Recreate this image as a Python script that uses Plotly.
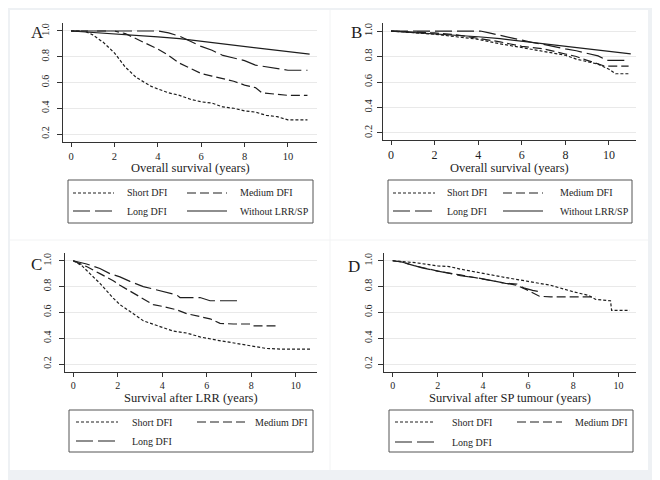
import plotly.graph_objects as go

# ---------------- data ----------------
years_ticks = [0, 2, 4, 6, 8, 10]
surv_ticks = [0.2, 0.4, 0.6, 0.8, 1.0]
surv_tick_labels = ["0.2", "0.4", "0.6", "0.8", "1.0"]

# Panel A - overall survival
a_short_t = [0, 0.6, 1.0, 1.5, 2.0, 2.5, 3.0, 3.3, 3.7, 4.0, 4.5, 5.0, 5.5, 6.0, 6.5, 7.0, 7.5, 8.0, 8.5, 9.0, 9.5, 10.0, 10.9]
a_short_s = [1.0, 1.0, 0.97, 0.91, 0.83, 0.72, 0.64, 0.61, 0.57, 0.55, 0.52, 0.50, 0.47, 0.45, 0.44, 0.41, 0.40, 0.38, 0.37, 0.345, 0.335, 0.31, 0.31]
a_medium_t = [0, 2.0, 2.5, 3.0, 3.5, 4.0, 4.5, 5.0, 5.5, 6.0, 6.5, 7.0, 7.5, 8.0, 8.5, 8.8, 9.5, 10.0, 10.9]
a_medium_s = [1.0, 1.0, 0.98, 0.94, 0.90, 0.86, 0.81, 0.75, 0.71, 0.67, 0.65, 0.63, 0.61, 0.58, 0.56, 0.52, 0.51, 0.50, 0.50]
a_long_t = [0, 4.0, 4.5, 5.0, 5.5, 6.0, 6.5, 7.0, 7.5, 8.0, 8.5, 9.0, 9.5, 10.0, 10.9]
a_long_s = [1.0, 1.0, 0.985, 0.96, 0.92, 0.88, 0.85, 0.81, 0.79, 0.77, 0.735, 0.72, 0.71, 0.695, 0.695]
ref_t = [0, 1, 2, 3, 4, 5, 6, 7, 8, 9, 10, 11]
ref_s = [1.0, 0.99, 0.98, 0.97, 0.955, 0.94, 0.92, 0.905, 0.885, 0.865, 0.845, 0.82]

# Panel B - overall survival
b_short_t = [0, 1, 2, 3, 4, 5, 6, 7, 8, 8.5, 9, 9.5, 10, 10.3, 10.9]
b_short_s = [1.0, 0.99, 0.975, 0.955, 0.935, 0.90, 0.87, 0.845, 0.81, 0.78, 0.76, 0.74, 0.70, 0.665, 0.665]
b_medium_t = [0, 1, 2, 3, 4, 5, 6, 7, 8, 8.5, 9, 9.5, 9.8, 10.9]
b_medium_s = [1.0, 0.995, 0.985, 0.97, 0.945, 0.915, 0.88, 0.86, 0.82, 0.80, 0.77, 0.745, 0.725, 0.725]
b_long_t = [0, 4.1, 4.5, 5, 5.5, 6, 6.5, 7, 7.5, 8, 8.5, 9, 9.5, 9.9, 10.9]
b_long_s = [1.0, 1.0, 0.985, 0.965, 0.945, 0.93, 0.91, 0.895, 0.875, 0.86, 0.845, 0.825, 0.805, 0.77, 0.77]

# Panel C - survival after LRR
c_short_t = [0, 0.4, 0.75, 1.2, 1.8, 2.1, 2.7, 3.15, 3.9, 4.5, 5.1, 5.7, 6.45, 7.2, 7.95, 8.7, 9.45, 10.65]
c_short_s = [1.0, 0.96, 0.90, 0.825, 0.71, 0.66, 0.59, 0.535, 0.49, 0.455, 0.44, 0.41, 0.385, 0.365, 0.34, 0.32, 0.315, 0.315]
c_medium_t = [0, 0.6, 1.2, 1.8, 2.1, 2.7, 3.15, 3.6, 4.05, 4.65, 5.1, 5.7, 6.15, 6.6, 7.2, 7.95, 8.1, 9.15]
c_medium_s = [1.0, 0.955, 0.90, 0.845, 0.81, 0.75, 0.70, 0.66, 0.645, 0.62, 0.59, 0.57, 0.55, 0.515, 0.51, 0.51, 0.495, 0.495]
c_long_t = [0, 0.6, 1.2, 1.65, 2.1, 2.55, 3.15, 3.75, 4.2, 4.65, 4.8, 5.7, 6.15, 7.5]
c_long_s = [1.0, 0.975, 0.94, 0.90, 0.875, 0.84, 0.80, 0.775, 0.755, 0.735, 0.715, 0.715, 0.69, 0.69]

# Panel D - survival after SP tumour
d_short_t = [0, 0.5, 1, 2, 2.5, 3, 4, 5, 6, 7, 8, 8.7, 9.0, 9.65, 9.7, 10.5]
d_short_s = [1.0, 0.995, 0.985, 0.96, 0.955, 0.935, 0.90, 0.87, 0.84, 0.81, 0.76, 0.73, 0.70, 0.69, 0.615, 0.615]
d_medium_t = [0, 0.4, 1, 1.5, 2, 3, 4, 5, 5.5, 6.0, 6.5, 7, 8, 9.0]
d_medium_s = [1.0, 0.99, 0.96, 0.94, 0.92, 0.89, 0.86, 0.825, 0.81, 0.77, 0.725, 0.72, 0.72, 0.72]
d_long_t = [0, 0.4, 1, 1.3, 2, 3, 4, 5, 5.5, 5.8, 6.2, 6.5]
d_long_s = [1.0, 0.99, 0.96, 0.945, 0.92, 0.885, 0.86, 0.825, 0.82, 0.79, 0.77, 0.76]

panel_letters = ["A", "B", "C", "D"]
x_titles = ["Overall survival (years)", "Overall survival (years)",
            "Survival after LRR (years)", "Survival after SP tumour (years)"]
legend_names = ["Short DFI", "Medium DFI", "Long DFI", "Without LRR/SP"]

# ---------------- styling ----------------
# The page body has an 8px default margin, so the figure is sized to fill the
# rest of the 660x480 window and all pixel positions are offset by 8.
OFF = 8
W, H = 660 - OFF, 480 - OFF
FONT = "Liberation Serif"
INK = "#1e1e1e"
DASH = {"Short DFI": "3px,2px", "Medium DFI": "9px,4px",
        "Long DFI": "17px,5px", "Without LRR/SP": "solid"}


def px(x):
    return (x - OFF) / W


def py(y):
    return 1 - (y - OFF) / H


# pixel geometry for each panel: plot box (x0, x1, ytop, ybottom), x range, y range
panels = [
    dict(box=(63, 317, 23, 142), xr=(-0.37, 11.34), yr=(0.138, 1.062), tf=10, xtf=10.5, so=4),
    dict(box=(383, 636, 23, 140), xr=(-0.367, 11.24), yr=(0.145, 1.063), tf=10.5, xtf=12, so=1),
    dict(box=(65, 317, 253, 372), xr=(-0.37, 10.96), yr=(0.138, 1.06), tf=10, xtf=10, so=4),
    dict(box=(384, 636, 253, 372), xr=(-0.385, 10.78), yr=(0.138, 1.06), tf=10, xtf=10, so=2),
]

series = [
    [("Short DFI", a_short_t, a_short_s), ("Medium DFI", a_medium_t, a_medium_s),
     ("Long DFI", a_long_t, a_long_s), ("Without LRR/SP", ref_t, ref_s)],
    [("Short DFI", b_short_t, b_short_s), ("Medium DFI", b_medium_t, b_medium_s),
     ("Long DFI", b_long_t, b_long_s), ("Without LRR/SP", ref_t, ref_s)],
    [("Short DFI", c_short_t, c_short_s), ("Medium DFI", c_medium_t, c_medium_s),
     ("Long DFI", c_long_t, c_long_s)],
    [("Short DFI", d_short_t, d_short_s), ("Medium DFI", d_medium_t, d_medium_s),
     ("Long DFI", d_long_t, d_long_s)],
]

# legend geometry: box, row y's, sample x-ranges, text x
legends = [
    dict(box=(68, 313, 180, 223), rows=(193, 211), cols=((73, 114, 125), (187, 227, 238))),
    dict(box=(388, 632, 180, 223), rows=(193, 211), cols=((393, 435, 445), (503, 543, 558))),
    dict(box=(69, 313, 410, 452), rows=(422, 441), cols=((76, 118, 130), (197, 247, 253))),
    dict(box=(389, 633, 410, 452), rows=(422, 442), cols=((395, 434, 450), (517, 562, 573))),
]
letter_pos = [(37, 33), (356, 33), (36, 264), (354, 266)]
title_y = [168, 168, 397.5, 397.5]

fig = go.Figure()
layout = dict(
    width=W, height=H,
    margin=dict(l=0, r=0, t=0, b=0),
    paper_bgcolor="#eef1f4",
    plot_bgcolor="white",
    showlegend=False,
    font=dict(family=FONT, color=INK, size=10),
)

shapes = [
    dict(type="rect", xref="paper", yref="paper", x0=px(10), x1=px(648), y0=py(470), y1=py(10),
         fillcolor="white", line=dict(width=0), layer="below"),
    dict(type="line", xref="paper", yref="paper", x0=px(330), x1=px(330), y0=py(470), y1=py(10),
         line=dict(color="#f2f3f4", width=1), layer="below"),
    dict(type="line", xref="paper", yref="paper", x0=px(10), x1=px(648), y0=py(240), y1=py(240),
         line=dict(color="#f2f3f4", width=1), layer="below"),
]
annotations = []

for i, p in enumerate(panels):
    n = "" if i == 0 else str(i + 1)
    x0, x1, yt, yb = p["box"]
    layout["xaxis" + n] = dict(
        domain=[px(x0), px(x1)], range=list(p["xr"]), anchor="y" + n,
        tickvals=years_ticks, ticks="outside", ticklen=4, tickcolor="#333",
        showline=True, linecolor="#333", linewidth=1, showgrid=False, zeroline=False,
        tickfont=dict(size=p["xtf"], family=FONT, color=INK),
        fixedrange=True,
    )
    layout["yaxis" + n] = dict(
        domain=[py(yb), py(yt)], range=list(p["yr"]), anchor="x" + n,
        tickvals=surv_ticks, ticktext=surv_tick_labels, tickangle=-90,
        ticks="outside", ticklen=5, tickcolor="#333", ticklabelstandoff=p["so"],
        showline=True, linecolor="#333", linewidth=1,
        showgrid=True, gridcolor="#e9e9e9", gridwidth=1, zeroline=False,
        tickfont=dict(size=p["tf"], family=FONT, color=INK),
        fixedrange=True,
    )
    for name, t, s in series[i]:
        fig.add_trace(go.Scatter(
            x=t, y=s, mode="lines", name=name,
            line=dict(color=INK, width=1.2, dash=DASH[name]),
            xaxis="x" + n, yaxis="y" + n, showlegend=False, hoverinfo="skip",
        ))

    # x-axis title
    annotations.append(dict(text=x_titles[i], x=px((x0 + x1) / 2), y=py(title_y[i]),
                            xref="paper", yref="paper", xanchor="center", yanchor="middle",
                            showarrow=False, font=dict(size=12.5, family=FONT, color=INK)))

    # panel letter
    lx, ly = letter_pos[i]
    annotations.append(dict(text=panel_letters[i], x=px(lx), y=py(ly), xref="paper", yref="paper",
                            xanchor="center", yanchor="middle", showarrow=False,
                            font=dict(size=17, family=FONT, color=INK)))

    # legend box
    lg = legends[i]
    bx0, bx1, by0, by1 = lg["box"]
    shapes.append(dict(type="rect", xref="paper", yref="paper", x0=px(bx0), x1=px(bx1),
                       y0=py(by1), y1=py(by0), line=dict(color="#555", width=1), fillcolor="white"))
    names = [nm for nm, _, _ in series[i]]
    for k, nm in enumerate(names):
        row = lg["rows"][k // 2]
        sx0, sx1, tx = lg["cols"][k % 2]
        shapes.append(dict(type="line", xref="paper", yref="paper", x0=px(sx0), x1=px(sx1),
                           y0=py(row), y1=py(row),
                           line=dict(color=INK, width=1.2, dash=DASH[nm])))
        annotations.append(dict(text=nm, x=px(tx), y=py(row), xref="paper", yref="paper",
                                xanchor="left", yanchor="middle", showarrow=False,
                                font=dict(size=10, family=FONT, color=INK)))

layout["shapes"] = shapes
layout["annotations"] = annotations
fig.update_layout(**layout)
fig.write_html("out.html")
